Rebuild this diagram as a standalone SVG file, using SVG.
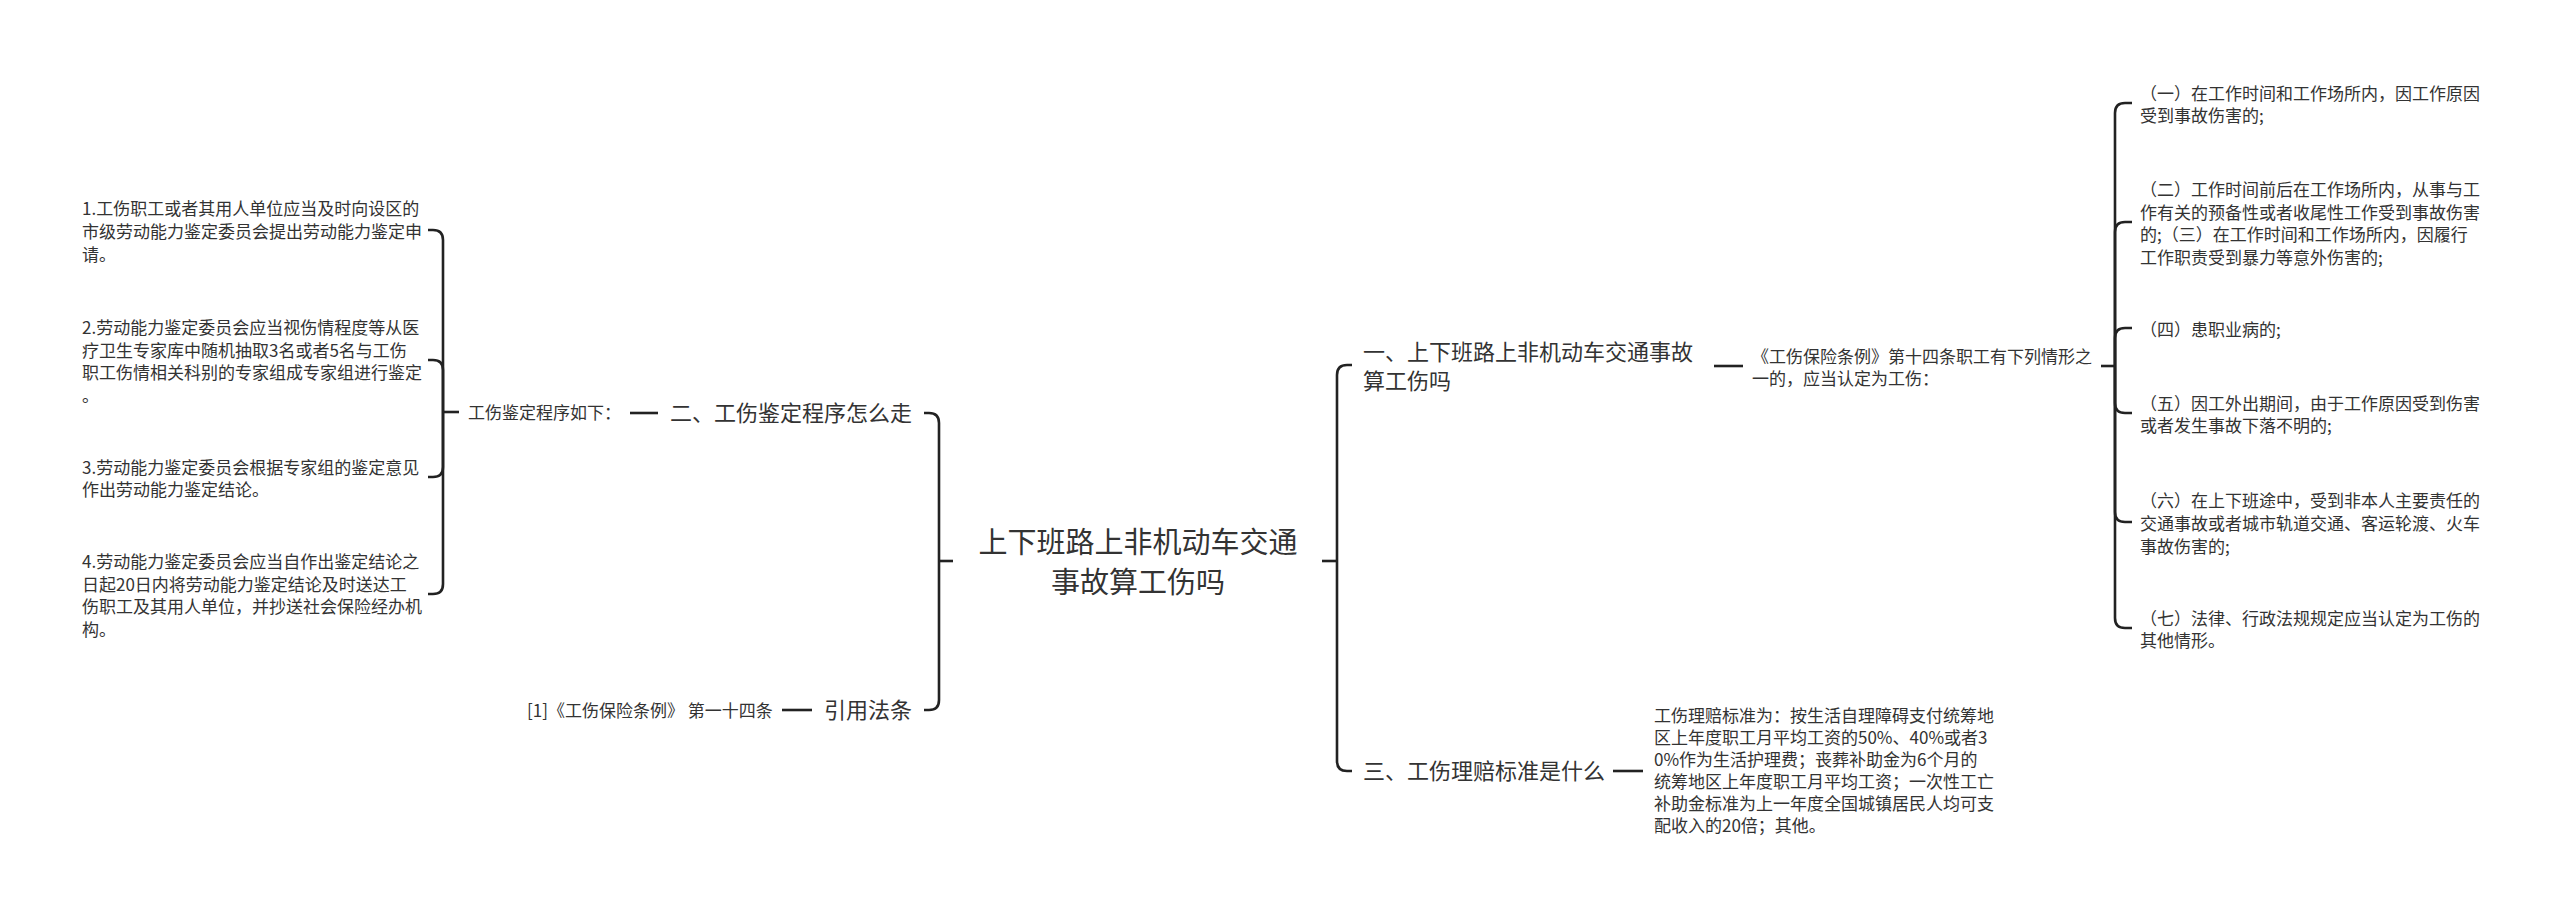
<svg xmlns="http://www.w3.org/2000/svg" width="2560" height="917" viewBox="0 0 2560 917">
<style>
  .bg { fill: #ffffff; }
  .ln { fill: none; stroke: #222222; stroke-width: 2.6; stroke-linecap: butt; stroke-linejoin: round; }
  text { font-family: "Noto Sans CJK SC", "Noto Sans", sans-serif; fill: #333333; }
  .root { font-size: 29px; text-anchor: middle; }
  .l2 { font-size: 22px; }
  .l3 { font-size: 17px; }
</style>
<rect class="bg" x="0" y="0" width="2560" height="917"/>

<g id="connectors">
  <!-- root left -->
  <path class="ln" d="M953,561 H939"/>
  <path class="ln" d="M939,561 V423 Q939,413 929,413 H924"/>
  <path class="ln" d="M939,561 V700 Q939,710 929,710 H924"/>
  <!-- root right -->
  <path class="ln" d="M1322,561 H1337"/>
  <path class="ln" d="M1337,561 V375 Q1337,365 1347,365 H1352"/>
  <path class="ln" d="M1337,561 V761 Q1337,771 1347,771 H1352"/>
  <!-- level 2 to level 3 straight -->
  <path class="ln" d="M658,413 H630"/>
  <path class="ln" d="M812,710 H782"/>
  <path class="ln" d="M1714,366 H1743"/>
  <path class="ln" d="M1613,771 H1643"/>
  <!-- left level 3 bracket -->
  <path class="ln" d="M459,412 H443"/>
  <path class="ln" d="M443,412 V240 Q443,230 433,230 H428"/>
  <path class="ln" d="M443,412 V370 Q443,360 433,360 H428"/>
  <path class="ln" d="M443,412 V467 Q443,477 433,477 H428"/>
  <path class="ln" d="M443,412 V584 Q443,594 433,594 H428"/>
  <!-- right level 3 bracket -->
  <path class="ln" d="M2101,366 H2115"/>
  <path class="ln" d="M2115,366 V113 Q2115,103 2125,103 H2132"/>
  <path class="ln" d="M2115,366 V232 Q2115,222 2125,222 H2132"/>
  <path class="ln" d="M2115,366 V338 Q2115,328 2125,328 H2132"/>
  <path class="ln" d="M2115,366 V403 Q2115,413 2125,413 H2132"/>
  <path class="ln" d="M2115,366 V512 Q2115,522 2125,522 H2132"/>
  <path class="ln" d="M2115,366 V618 Q2115,628 2125,628 H2132"/>
</g>

<g id="root">
  <text class="root"><tspan x="1138" y="553">上下班路上非机动车交通</tspan><tspan x="1138" y="593">事故算工伤吗</tspan></text>
</g>

<g id="n-procedure">
  <text class="l2"><tspan x="670" y="421">二、工伤鉴定程序怎么走</tspan></text>
</g>
<g id="n-procedure-intro">
  <text class="l3"><tspan x="468" y="419">工伤鉴定程序如下：</tspan></text>
</g>
<g id="n-step1">
  <text class="l3"><tspan x="82" y="215">1.工伤职工或者其用人单位应当及时向设区的</tspan><tspan x="82" y="238">市级劳动能力鉴定委员会提出劳动能力鉴定申</tspan><tspan x="82" y="261">请。</tspan></text>
</g>
<g id="n-step2">
  <text class="l3"><tspan x="82" y="334">2.劳动能力鉴定委员会应当视伤情程度等从医</tspan><tspan x="82" y="357">疗卫生专家库中随机抽取3名或者5名与工伤</tspan><tspan x="82" y="379">职工伤情相关科别的专家组成专家组进行鉴定</tspan><tspan x="82" y="402">。</tspan></text>
</g>
<g id="n-step3">
  <text class="l3"><tspan x="82" y="474">3.劳动能力鉴定委员会根据专家组的鉴定意见</tspan><tspan x="82" y="496">作出劳动能力鉴定结论。</tspan></text>
</g>
<g id="n-step4">
  <text class="l3"><tspan x="82" y="568">4.劳动能力鉴定委员会应当自作出鉴定结论之</tspan><tspan x="82" y="591">日起20日内将劳动能力鉴定结论及时送达工</tspan><tspan x="82" y="613">伤职工及其用人单位，并抄送社会保险经办机</tspan><tspan x="82" y="636">构。</tspan></text>
</g>

<g id="n-law">
  <text class="l2"><tspan x="824" y="718">引用法条</tspan></text>
</g>
<g id="n-law-ref">
  <text class="l3"><tspan x="527" y="717">[1]《工伤保险条例》 第一十四条</tspan></text>
</g>

<g id="n-question">
  <text class="l2"><tspan x="1363" y="360">一、上下班路上非机动车交通事故</tspan><tspan x="1363" y="389">算工伤吗</tspan></text>
</g>
<g id="n-regulation">
  <text class="l3"><tspan x="1752" y="363">《工伤保险条例》第十四条职工有下列情形之</tspan><tspan x="1752" y="385">一的，应当认定为工伤：</tspan></text>
</g>
<g id="n-case1">
  <text class="l3"><tspan x="2140" y="100">（一）在工作时间和工作场所内，因工作原因</tspan><tspan x="2140" y="122">受到事故伤害的;</tspan></text>
</g>
<g id="n-case2">
  <text class="l3"><tspan x="2140" y="196">（二）工作时间前后在工作场所内，从事与工</tspan><tspan x="2140" y="219">作有关的预备性或者收尾性工作受到事故伤害</tspan><tspan x="2140" y="241">的;（三）在工作时间和工作场所内，因履行</tspan><tspan x="2140" y="264">工作职责受到暴力等意外伤害的;</tspan></text>
</g>
<g id="n-case4">
  <text class="l3"><tspan x="2140" y="336">（四）患职业病的;</tspan></text>
</g>
<g id="n-case5">
  <text class="l3"><tspan x="2140" y="410">（五）因工外出期间，由于工作原因受到伤害</tspan><tspan x="2140" y="432">或者发生事故下落不明的;</tspan></text>
</g>
<g id="n-case6">
  <text class="l3"><tspan x="2140" y="507">（六）在上下班途中，受到非本人主要责任的</tspan><tspan x="2140" y="530">交通事故或者城市轨道交通、客运轮渡、火车</tspan><tspan x="2140" y="553">事故伤害的;</tspan></text>
</g>
<g id="n-case7">
  <text class="l3"><tspan x="2140" y="625">（七）法律、行政法规规定应当认定为工伤的</tspan><tspan x="2140" y="647">其他情形。</tspan></text>
</g>

<g id="n-compensation">
  <text class="l2"><tspan x="1363" y="779">三、工伤理赔标准是什么</tspan></text>
</g>
<g id="n-compensation-detail">
  <text class="l3"><tspan x="1654" y="722">工伤理赔标准为：按生活自理障碍支付统筹地</tspan><tspan x="1654" y="744">区上年度职工月平均工资的50%、40%或者3</tspan><tspan x="1654" y="766">0%作为生活护理费；丧葬补助金为6个月的</tspan><tspan x="1654" y="788">统筹地区上年度职工月平均工资；一次性工亡</tspan><tspan x="1654" y="810">补助金标准为上一年度全国城镇居民人均可支</tspan><tspan x="1654" y="832">配收入的20倍；其他。</tspan></text>
</g>
</svg>
